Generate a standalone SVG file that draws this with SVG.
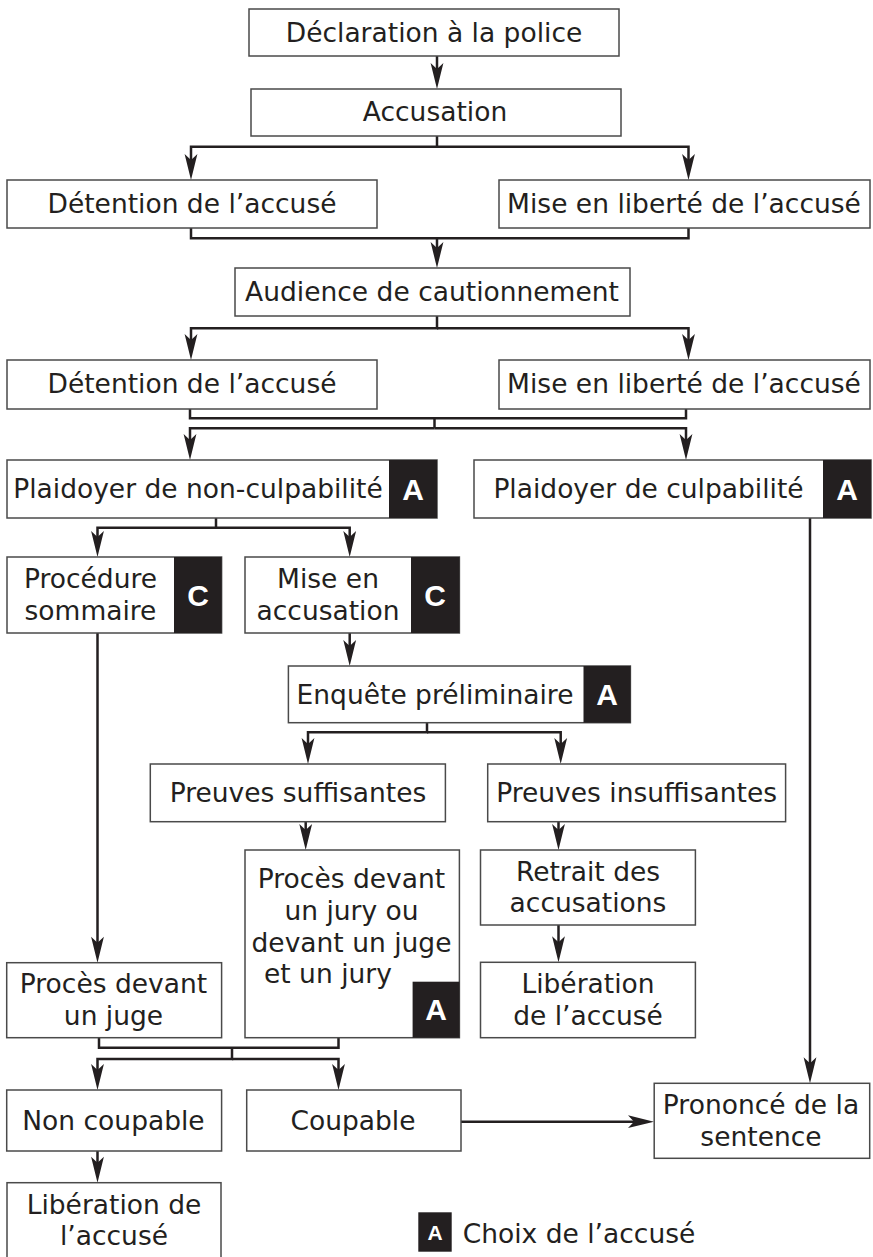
<svg xmlns="http://www.w3.org/2000/svg" width="873" height="1257" viewBox="0 0 873 1257">
<style>
.b{fill:#fff;stroke:#4a4a4a;stroke-width:1.5}
.k{fill:#231f20}
.t{font-family:"DejaVu Sans",Verdana,sans-serif;font-size:26.5px;fill:#231f20;text-anchor:middle}
.s{text-anchor:start}
.l{font-family:"Liberation Sans",Arial,sans-serif;font-weight:bold;font-size:30px;fill:#fff;text-anchor:middle}
.c{fill:none;stroke:#231f20;stroke-width:2.5;marker-end:url(#arr)}
.n{fill:none;stroke:#231f20;stroke-width:2.5}
</style>
<defs>
<marker id="arr" markerUnits="userSpaceOnUse" viewBox="-17 -7 28 14" markerWidth="28" markerHeight="14" refX="0" refY="0" orient="auto">
<path d="M10,0 L-16,-6.4 L-10,0 L-16,6.4 Z" fill="#231f20"/>
</marker>
</defs>
<rect width="873" height="1257" fill="#fff"/>
<g id="connectors">
<path class="c" d="M437,56 V79"/>
<path class="c" d="M437,136 V146.7 H191 V170"/>
<path class="c" d="M437,146.7 H688.5 V170"/>
<path class="n" d="M191,228 V238.3 H688.5 V228"/>
<path class="c" d="M437,238.3 V258"/>
<path class="c" d="M437,316 V328.3 H191 V350"/>
<path class="c" d="M437,328.3 H688.5 V350"/>
<path class="n" d="M190,409 V418.3 H686 V409"/>
<path class="n" d="M434.5,418.3 V428.3"/>
<path class="c" d="M434.5,428.3 H190 V450"/>
<path class="c" d="M434.5,428.3 H686 V450"/>
<path class="c" d="M216,518 V527.7 H97.5 V547"/>
<path class="c" d="M216,527.7 H349.7 V547"/>
<path class="c" d="M97.5,633 V952.7"/>
<path class="c" d="M349.7,633 V656"/>
<path class="c" d="M427,722.7 V732.3 H308 V754"/>
<path class="c" d="M427,732.3 H560.7 V754"/>
<path class="c" d="M305.7,821.7 V840"/>
<path class="c" d="M558.5,821.7 V840"/>
<path class="c" d="M558.5,925 V952.3"/>
<path class="c" d="M810,518 V1073.3"/>
<path class="n" d="M99,1037.7 V1047.7 H338.5 V1037.7"/>
<path class="c" d="M232,1047.7 V1059 H97.5 V1080"/>
<path class="c" d="M232,1059 H338.5 V1080"/>
<path class="c" d="M461,1121.7 H644"/>
<path class="c" d="M97.5,1151 V1172.7"/>
</g>
<g id="n1"><rect class="b" x="249" y="9" width="370" height="47"/><text class="t" x="434" y="42">Déclaration à la police</text></g>
<g id="n2"><rect class="b" x="251" y="89" width="370" height="47"/><text class="t" x="435" y="121">Accusation</text></g>
<g id="n3"><rect class="b" x="7" y="180" width="370" height="48"/><text class="t" x="192" y="213">Détention de l’accusé</text></g>
<g id="n4"><rect class="b" x="499" y="180" width="371" height="48"/><text class="t" x="684" y="213">Mise en liberté de l’accusé</text></g>
<g id="n5"><rect class="b" x="235" y="268" width="395" height="48"/><text class="t" x="432" y="301">Audience de cautionnement</text></g>
<g id="n6"><rect class="b" x="7" y="360" width="370" height="49"/><text class="t" x="192" y="393">Détention de l’accusé</text></g>
<g id="n7"><rect class="b" x="499" y="360" width="371" height="49"/><text class="t" x="684" y="393">Mise en liberté de l’accusé</text></g>
<g id="n8"><rect class="b" x="7" y="460" width="430" height="58"/><rect class="k" x="389" y="460" width="48" height="58"/><text class="t" x="198" y="498">Plaidoyer de non-culpabilité</text><text class="l" x="413" y="499.7">A</text></g>
<g id="n9"><rect class="b" x="474" y="460" width="397" height="58"/><rect class="k" x="823" y="460" width="48" height="58"/><text class="t" x="648.5" y="498">Plaidoyer de culpabilité</text><text class="l" x="847" y="499.7">A</text></g>
<g id="n10"><rect class="b" x="7" y="557" width="214.6" height="76"/><rect class="k" x="174" y="557" width="47.6" height="76"/><text class="t" x="90.5" y="588">Procédure</text><text class="t" x="90.5" y="619.5">sommaire</text><text class="l" x="198" y="605.7">C</text></g>
<g id="n11"><rect class="b" x="245" y="557" width="214.4" height="76"/><rect class="k" x="411" y="557" width="48.4" height="76"/><text class="t" x="328" y="588">Mise en</text><text class="t" x="328" y="619.5">accusation</text><text class="l" x="435" y="605.7">C</text></g>
<g id="n12"><rect class="b" x="288.4" y="666" width="342" height="56.7"/><rect class="k" x="583.5" y="666" width="46.9" height="56.7"/><text class="t" x="435" y="703.5">Enquête préliminaire</text><text class="l" x="607" y="705">A</text></g>
<g id="n13"><rect class="b" x="150.3" y="764" width="295.1" height="57.7"/><text class="t" x="298" y="802">Preuves suffisantes</text></g>
<g id="n14"><rect class="b" x="487.7" y="764" width="297.9" height="57.7"/><text class="t" x="636.6" y="802">Preuves insuffisantes</text></g>
<g id="n15"><rect class="b" x="245" y="850" width="214.4" height="187.7"/><rect class="k" x="412.6" y="981.7" width="46.8" height="56"/><text class="t" x="351.5" y="888">Procès devant</text><text class="t" x="351.5" y="920">un jury ou</text><text class="t" x="351.5" y="951.5">devant un juge</text><text class="t s" x="264" y="983">et un jury</text><text class="l" x="436" y="1020.4">A</text></g>
<g id="n16"><rect class="b" x="480.5" y="850" width="214.9" height="75"/><text class="t" x="588" y="881">Retrait des</text><text class="t" x="588" y="912.3">accusations</text></g>
<g id="n17"><rect class="b" x="6.7" y="962.7" width="214.9" height="75"/><text class="t" x="113.5" y="993">Procès devant</text><text class="t" x="113.5" y="1024.5">un juge</text></g>
<g id="n18"><rect class="b" x="480.5" y="962.3" width="214.9" height="75.4"/><text class="t" x="588" y="993.3">Libération</text><text class="t" x="588" y="1025">de l’accusé</text></g>
<g id="n19"><rect class="b" x="6.7" y="1090" width="214.9" height="61"/><text class="t" x="113.5" y="1129.5">Non coupable</text></g>
<g id="n20"><rect class="b" x="246.7" y="1090" width="214.3" height="61"/><text class="t" x="353" y="1129.5">Coupable</text></g>
<g id="n21"><rect class="b" x="654.2" y="1083.3" width="215.5" height="75"/><text class="t" x="761" y="1114">Prononcé de la</text><text class="t" x="761" y="1145.5">sentence</text></g>
<g id="n22"><rect class="b" x="7" y="1182.7" width="214" height="80"/><text class="t" x="114" y="1214">Libération de</text><text class="t" x="114" y="1245">l’accusé</text></g>
<g id="legend"><rect class="k" x="418.3" y="1212.3" width="33.4" height="39.4"/><text class="l" x="435" y="1240" style="font-size:21px">A</text><text class="t s" x="462.7" y="1243">Choix de l’accusé</text></g>
</svg>
